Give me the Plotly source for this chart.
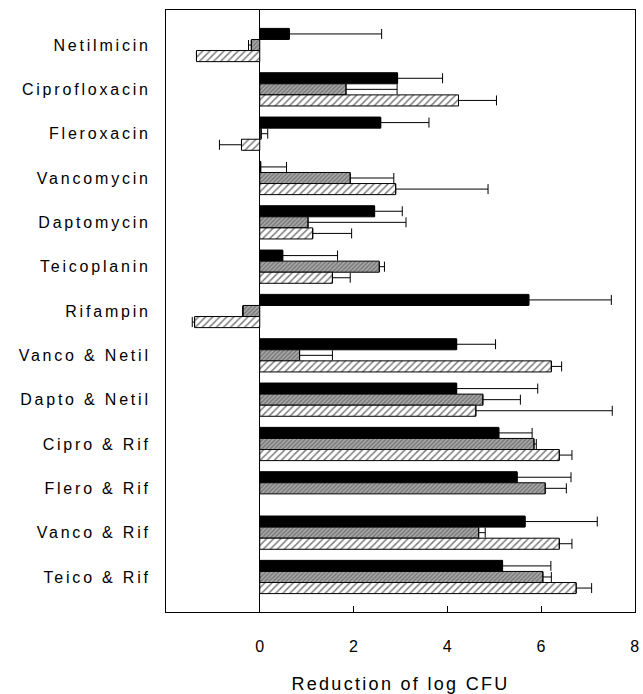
import plotly.graph_objects as go

categories = ["Netilmicin", "Ciprofloxacin", "Fleroxacin", "Vancomycin", "Daptomycin",
              "Teicoplanin", "Rifampin", "Vanco & Netil", "Dapto & Netil", "Cipro & Rif",
              "Flero & Rif", "Vanco & Rif", "Teico & Rif"]

# series values (reduction of log CFU)
black_vals = [0.63, 2.94, 2.58, 0.02, 2.45, 0.49, 5.74, 4.20, 4.20, 5.10, 5.49, 5.66, 5.18]
black_err = [1.97, 0.96, 1.03, 0.55, 0.59, 1.17, 1.76, 0.83, 1.73, 0.71, 1.15, 1.54, 1.03]

gray_vals = [-0.18, 1.84, 0.03, 1.93, 1.03, 2.55, -0.36, 0.85, 4.76, 5.85, 6.09, 4.67, 6.04]
gray_err = [0.06, 1.09, 0.14, 0.93, 2.09, 0.11, 0.0, 0.70, 0.80, 0.05, 0.45, 0.14, 0.18]

hatch_vals = [-1.35, 4.24, -0.39, 2.90, 1.13, 1.55, -1.39, 6.22, 4.61, 6.39, None, 6.39, 6.75]
hatch_err = [0.0, 0.81, 0.47, 1.97, 0.83, 0.38, 0.05, 0.22, 2.91, 0.27, None, 0.27, 0.33]

x_ticks = [0, 2, 4, 6, 8]


def spaced(text, px):
    return f'<span style="letter-spacing:{px}px">{text.replace("&", "&amp;")}</span>'


def split_err(vals, errs):
    plus, minus = [], []
    for v, e in zip(vals, errs):
        if v is None or e is None:
            plus.append(0)
            minus.append(0)
        elif v >= 0:
            plus.append(e)
            minus.append(0)
        else:
            plus.append(0)
            minus.append(e)
    return plus, minus


def make_trace(vals, errs, marker):
    p, m = split_err(vals, errs)
    return go.Bar(
        y=categories, x=vals, orientation="h", marker=marker,
        error_x=dict(type="data", symmetric=False, array=p, arrayminus=m,
                     color="black", thickness=1, width=5),
        showlegend=False,
    )


fig = go.Figure()
fig.add_trace(make_trace(black_vals, black_err,
                         dict(color="black", line=dict(color="black", width=1))))
fig.add_trace(make_trace(gray_vals, gray_err,
                         dict(color="#a0a0a0", line=dict(color="black", width=1),
                              pattern=dict(shape="/", fgcolor="#383838", bgcolor="#a8a8a8",
                                           size=3, solidity=0.4))))
fig.add_trace(make_trace(hatch_vals, hatch_err,
                         dict(color="white", line=dict(color="black", width=1),
                              pattern=dict(shape="/", fgcolor="black", bgcolor="white",
                                           size=5, solidity=0.3))))

fig.update_layout(
    width=643, height=694,
    margin=dict(l=166, r=8, t=10, b=82),
    barmode="group", bargap=0.25, bargroupgap=0,
    plot_bgcolor="white", paper_bgcolor="white",
    font=dict(family="Liberation Sans, Arial, sans-serif", size=16, color="black"),
)
fig.update_xaxes(
    range=[-2.0, 8.005], tickvals=x_ticks, ticktext=[str(t) for t in x_ticks],
    ticks="inside", ticklen=6, tickcolor="black", tickwidth=1,
    ticklabelstandoff=20, automargin=False,
    showgrid=False, zeroline=True, zerolinecolor="black", zerolinewidth=1,
    showline=True, linecolor="black", linewidth=1, mirror=True,
    title=dict(text=spaced("Reduction of log CFU", 2.3), font=dict(size=18), standoff=24),
)
fig.update_yaxes(
    range=[12.79, -0.79], ticks="", showgrid=False, automargin=False,
    tickvals=categories, ticktext=[spaced(c, 2.8) for c in categories],
    showline=True, linecolor="black", linewidth=1, mirror=True,
    ticklabelstandoff=11,
)

fig.write_html("out.html", config={"displayModeBar": False},
               post_script="document.body.style.margin='0';")
